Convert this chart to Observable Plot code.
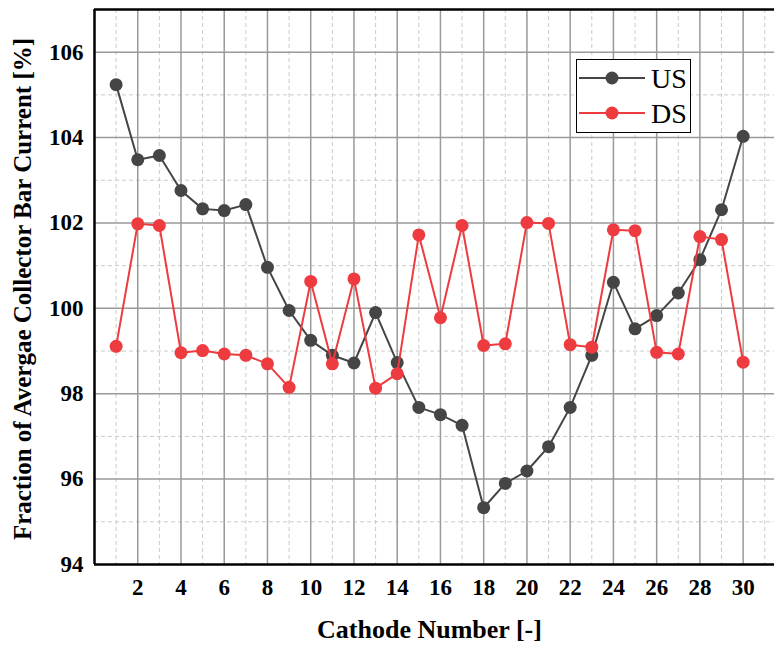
<!DOCTYPE html>
<html>
<head>
<meta charset="utf-8">
<script src="https://cdn.jsdelivr.net/npm/d3@7"></script>
<script src="https://cdn.jsdelivr.net/npm/@observablehq/plot@0.6"></script>
<style>
  html, body { margin: 0; padding: 0; background: #fff; }
  #wrap { position: relative; width: 774px; height: 645px; overflow: hidden; }
  #wrap svg text { font-family: 'Liberation Serif', 'Times New Roman', serif; }
  #legend { position: absolute; left: 576px; top: 59px; width: 115px; height: 74px;
            border: 1.2px solid #000; background: #fff; box-sizing: border-box; }
</style>
</head>
<body>
<div id="wrap"></div>
<script>
const cathodes = [1,2,3,4,5,6,7,8,9,10,11,12,13,14,15,16,17,18,19,20,21,22,23,24,25,26,27,28,29,30];
const us = [105.24, 103.48, 103.58, 102.76, 102.33, 102.29, 102.43, 100.96, 99.95, 99.25,
            98.90, 98.72, 99.90, 98.73, 97.68, 97.51, 97.26, 95.33, 95.90, 96.19,
            96.76, 97.68, 98.90, 100.61, 99.52, 99.83, 100.36, 101.14, 102.31, 104.03];
const ds = [99.11, 101.98, 101.94, 98.96, 99.01, 98.93, 98.90, 98.70, 98.15, 100.63,
            98.70, 100.69, 98.13, 98.47, 101.72, 99.78, 101.94, 99.13, 99.17, 102.01,
            101.99, 99.15, 99.09, 101.84, 101.82, 98.97, 98.93, 101.68, 101.61, 98.74];
const seriesNames = ["US", "DS"];
const seriesColors = ["#454545", "#ee3b3f"];
const xTicks = [2,4,6,8,10,12,14,16,18,20,22,24,26,28,30];
const xMajor = [2,4,6,8,10,12,14,16,18,20,22,24,26,28,30];
const xMinor = [1,3,5,7,9,11,13,15,17,19,21,23,25,27,29,31];
const yTicks = [94,96,98,100,102,104,106];
const yMinor = [95,97,99,101,103,105];
const xLabel = "Cathode Number [-]";
const yLabel = "Fraction of Avergae Collector Bar Current [%]";

const usData = cathodes.map((c, i) => ({c, v: us[i]}));
const dsData = cathodes.map((c, i) => ({c, v: ds[i]}));

const font = "Liberation Serif, Times New Roman, serif";

const chart = Plot.plot({
  width: 774,
  height: 645,
  marginLeft: 94,
  marginRight: 0,
  marginTop: 9,
  marginBottom: 81,
  style: { fontFamily: font, fontWeight: "bold", fontSize: "23px", color: "#000", background: "#fff" },
  x: { domain: [0, 31.45], label: null },
  y: { domain: [94, 107], label: null },
  marks: [
    Plot.ruleY(yMinor, { stroke: "#cbcbcb", strokeWidth: 1, strokeDasharray: "4,3" }),
    Plot.ruleX(xMinor, { stroke: "#cbcbcb", strokeWidth: 1, strokeDasharray: "4,3" }),
    Plot.ruleY(yTicks.filter(d => d > 94), { stroke: "#9a9a9a", strokeWidth: 1.5 }),
    Plot.ruleX(xMajor, { stroke: "#9a9a9a", strokeWidth: 1.5 }),
    Plot.axisX({ ticks: xTicks, tickSize: 0, tickPadding: 14, label: null, fontSize: 23, fontWeight: "bold" }),
    Plot.axisY({ ticks: yTicks, tickSize: 0, tickPadding: 11, label: null, fontSize: 23, fontWeight: "bold" }),
    Plot.line(usData, { x: "c", y: "v", stroke: seriesColors[0], strokeWidth: 2 }),
    Plot.dot(usData, { x: "c", y: "v", r: 6.5, fill: seriesColors[0] }),
    Plot.line(dsData, { x: "c", y: "v", stroke: seriesColors[1], strokeWidth: 2 }),
    Plot.dot(dsData, { x: "c", y: "v", r: 6.5, fill: seriesColors[1] }),
    Plot.ruleX([0], { stroke: "#000", strokeWidth: 2.5 }),
    Plot.ruleY([94], { stroke: "#000", strokeWidth: 2.5 }),
    Plot.ruleY([107], { stroke: "#000", strokeWidth: 2.5 }),
    Plot.text([xLabel], { frameAnchor: "bottom", dx: -5, dy: 73, lineAnchor: "bottom",
      fontSize: 26, fontWeight: "bold", fill: "#000" }),
    Plot.text([yLabel], { frameAnchor: "left", dx: -72, dy: 2, rotate: -90, lineAnchor: "middle",
      textAnchor: "middle", fontSize: 25, fontWeight: "bold", fill: "#000" })
  ]
});

const wrap = document.getElementById("wrap");
wrap.appendChild(chart);

// Legend (line + marker symbols)
const legend = document.createElement("div");
legend.id = "legend";
const ns = "http://www.w3.org/2000/svg";
const lsvg = document.createElementNS(ns, "svg");
lsvg.setAttribute("width", "113");
lsvg.setAttribute("height", "72");
seriesNames.forEach((name, i) => {
  const cy = 18 + i * 35;
  const line = document.createElementNS(ns, "line");
  line.setAttribute("x1", 2); line.setAttribute("x2", 68);
  line.setAttribute("y1", cy); line.setAttribute("y2", cy);
  line.setAttribute("stroke", seriesColors[i]); line.setAttribute("stroke-width", 2);
  lsvg.appendChild(line);
  const c = document.createElementNS(ns, "circle");
  c.setAttribute("cx", 35); c.setAttribute("cy", cy); c.setAttribute("r", 6.5);
  c.setAttribute("fill", seriesColors[i]);
  lsvg.appendChild(c);
  const t = document.createElementNS(ns, "text");
  t.setAttribute("x", 74); t.setAttribute("y", cy);
  t.setAttribute("dy", "0.36em");
  t.setAttribute("font-family", font);
  t.setAttribute("font-size", "28");
  t.setAttribute("font-weight", "normal");
  t.setAttribute("fill", "#000");
  t.textContent = name;
  lsvg.appendChild(t);
});
legend.appendChild(lsvg);
wrap.appendChild(legend);
</script>
</body>
</html>
